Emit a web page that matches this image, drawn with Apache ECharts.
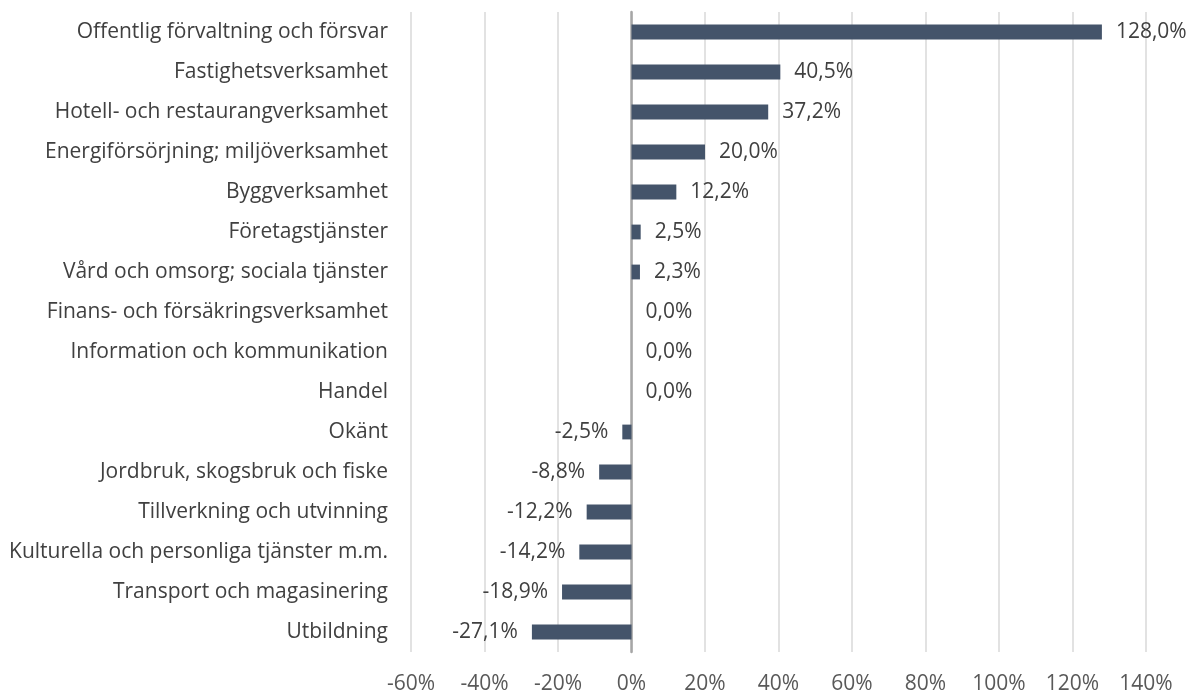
<!DOCTYPE html>
<html><head><meta charset="utf-8">
<script src="https://cdn.jsdelivr.net/npm/echarts@6/dist/echarts.min.js"></script>
<style>html,body{margin:0;padding:0;background:#fff}#c{width:1192px;height:695px}</style>
</head><body><div id="c"></div>
<script>
const categories = ["Offentlig förvaltning och försvar","Fastighetsverksamhet","Hotell- och restaurangverksamhet","Energiförsörjning; miljöverksamhet","Byggverksamhet","Företagstjänster","Vård och omsorg; sociala tjänster","Finans- och försäkringsverksamhet","Information och kommunikation","Handel","Okänt","Jordbruk, skogsbruk och fiske","Tillverkning och utvinning","Kulturella och personliga tjänster m.m.","Transport och magasinering","Utbildning"];
const values = [128.0,40.5,37.2,20.0,12.2,2.5,2.3,0.0,0.0,0.0,-2.5,-8.8,-12.2,-14.2,-18.9,-27.1];
const xTicks = {min:-60,max:140,interval:20};
const fmt = v => v.toFixed(1).replace('.', ',') + '%';
const font = '"Open Sans", Lato, sans-serif';
const chart = echarts.init(document.getElementById('c'), null, {renderer:'canvas'});
chart.setOption({
  animation:false,
  grid:{left:411,right:46,top:12,bottom:40,containLabel:false},
  xAxis:{type:'value',min:xTicks.min,max:xTicks.max,interval:xTicks.interval,
    axisLine:{show:false},axisTick:{show:false},
    splitLine:{lineStyle:{color:'#D9D9D9',width:1.5}},
    axisLabel:{formatter:v=>v+'%',color:'#595959',fontSize:21,fontFamily:font,margin:22}},
  yAxis:{type:'category',data:categories,inverse:true,
    axisLine:{show:true,onZero:true,lineStyle:{color:'#A6A6A6',width:2.5}},
    axisTick:{show:false},
    axisLabel:{color:'#404040',fontSize:21,fontFamily:font,margin:23,padding:[4,0,0,0]}},
  series:[{type:'bar',barWidth:'37%',
    itemStyle:{color:'#44546A'},
    data:values.map(v=>({value:v,label:{position:v<0?'left':'right'}})),
    label:{show:true,formatter:p=>fmt(p.value),color:'#404040',fontSize:21,fontFamily:font,distance:14,padding:[4,0,0,0]}}]
});
</script></body></html>
